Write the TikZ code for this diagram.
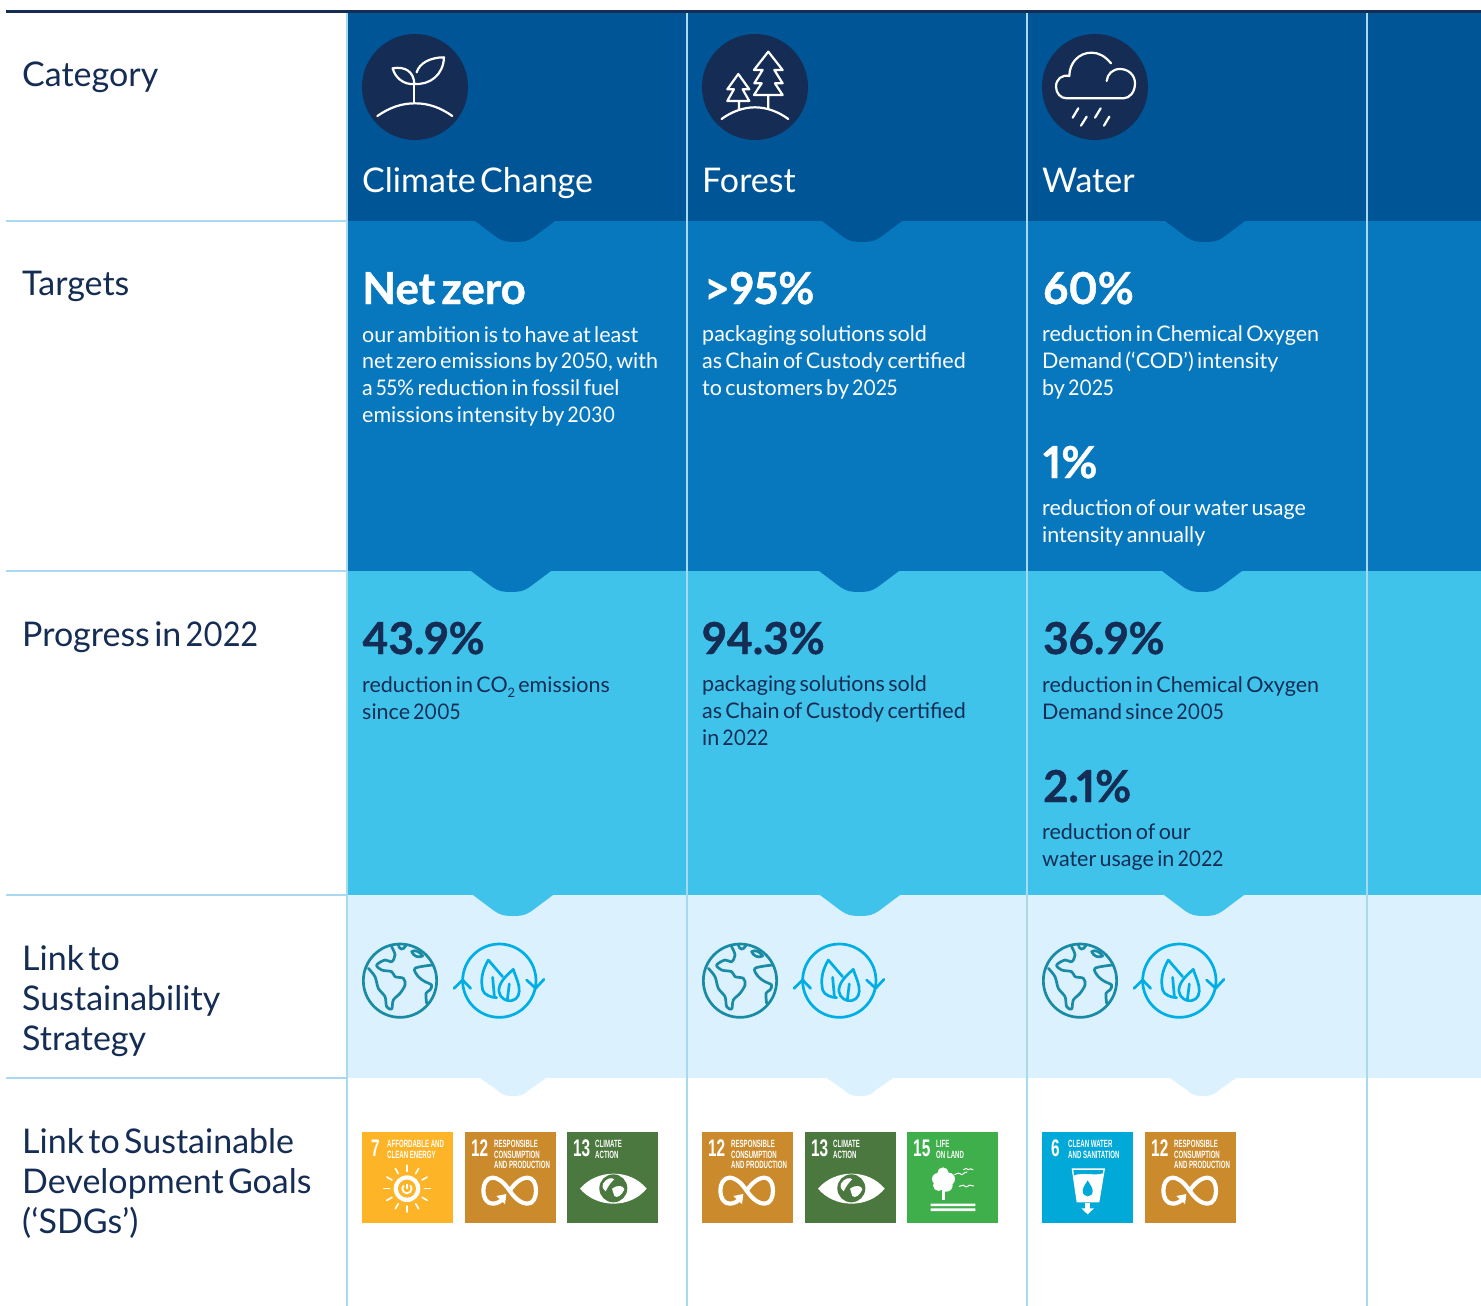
\documentclass[tikz,border=0pt]{standalone}
\usepackage{fontspec}
\setmainfont{Lato}[WordSpace=0.6,Numbers=Proportional,BoldFeatures={FakeBold=1}]
\newfontfamily\lblfont[WordSpace=0.5,Numbers=Proportional]{Lato}
\newfontfamily\digitfont[FakeStretch=0.9,Numbers=Proportional]{Lato}
\newfontfamily\sdgfont[FakeStretch=0.58]{Liberation Sans Bold}
\newfontfamily\sdgnum[FakeStretch=0.64]{Liberation Sans Bold}
\newcommand\dg[1]{{\digitfont #1}}
\definecolor{navy}{HTML}{152D55}
\definecolor{bandA}{HTML}{005596}
\definecolor{bandB}{HTML}{0878BE}
\definecolor{bandC}{HTML}{3FC3EA}
\definecolor{bandD}{HTML}{DBF1FD}
\definecolor{rulec}{HTML}{A9D9F0}
\definecolor{globec}{HTML}{1A8BA5}
\definecolor{leafc}{HTML}{00AEE6}
\definecolor{sdgY}{HTML}{FDB427}
\definecolor{sdgO}{HTML}{CB8A2B}
\definecolor{sdgG}{HTML}{4B783E}
\definecolor{sdgL}{HTML}{3FAF4B}
\definecolor{sdgB}{HTML}{00A9D8}
\tikzset{
  lbl/.style={anchor=base west,inner sep=0pt,align=left,text=navy,font=\fontsize{34}{40}\lblfont},
  head/.style={anchor=base west,inner sep=0pt,text=white,font=\fontsize{34}{40}\lblfont},
  bigw/.style={anchor=base west,inner sep=0pt,text=white,font=\fontsize{44}{50}\selectfont\bfseries},
  bigd/.style={anchor=base west,inner sep=0pt,text=navy,font=\fontsize{44}{50}\selectfont\bfseries},
  bodyw/.style={anchor=base west,inner sep=0pt,align=left,text=white,font=\fontsize{21.5}{26.6}\selectfont},
  bodyd/.style={anchor=base west,inner sep=0pt,align=left,text=navy,font=\fontsize{21.5}{26.6}\selectfont},
  iconw/.style={draw=white,line width=2.2pt,line cap=round,line join=round},
  icong/.style={draw=globec,line width=2.7pt,line cap=round,line join=round},
  iconl/.style={draw=leafc,line width=2.7pt,line cap=round,line join=round},
  tile/.style={anchor=north west,inner sep=0pt,minimum size=91pt},
  tnum/.style={anchor=base west,inner sep=0pt,text=white,font=\fontsize{24}{24}\sdgnum},
  tlab/.style={anchor=north west,inner sep=0pt,align=left,text=white,font=\fontsize{10.5}{10.7}\sdgfont},
  tsym/.style={draw=white,line cap=round,line join=round},
}
% notch: upper band's colour pushed into the lower one
\newcommand\notch[3]{\fill[#3] ({#1-40},#2) -- ({#1-20},{#2+15}) .. controls ({#1-12},{#2+21}) and ({#1-6},{#2+21}) .. (#1,{#2+21}) .. controls ({#1+6},{#2+21}) and ({#1+12},{#2+21}) .. ({#1+20},{#2+15}) -- ({#1+40},#2) -- cycle;}
\newcommand\smallnotch[3]{\fill[#3] ({#1-33},#2) -- ({#1-16},{#2+12}) .. controls ({#1-10},{#2+18}) and ({#1-5},{#2+18}) .. (#1,{#2+18}) .. controls ({#1+5},{#2+18}) and ({#1+10},{#2+18}) .. ({#1+16},{#2+12}) -- ({#1+33},#2) -- cycle;}
\newcommand\linkicons[1]{%
\begin{scope}[shift={({350+#1},930)},x=0.3333pt,y=-0.3333pt]
  \draw[icong] (150,152) circle (110);
  \draw[icong] plot[smooth,tension=0.55] coordinates {(55,115) (75,140) (85,175) (105,200) (110,230) (125,237) (130,210) (150,190) (165,165) (160,145) (135,140) (125,125) (95,120) (80,105) (105,90) (125,95) (135,75) (125,50)};
  \draw[icong] (145,45) .. controls (148,60) and (160,62) .. (168,46);
  \draw[icong] (185,65) .. controls (190,78) and (205,85) .. (218,78) .. controls (210,65) and (195,58) .. (185,65) -- cycle;
  \draw[icong] plot[smooth,tension=0.55] coordinates {(248,105) (195,115) (205,140) (225,155) (245,165) (240,180) (228,190) (230,220)};
  \draw[iconl] (448,152) circle (110);
  \draw[iconl] (312,175) -- (338,150) -- (362,175);
  \draw[iconl] (530,150) -- (557,175) -- (582,148);
  \draw[iconl] (415,90) .. controls (395,125) and (392,150) .. (398,180) .. controls (402,195) and (425,203) .. (440,203);
  \draw[iconl] (415,90) -- (458,140);
  \draw[iconl] (490,118) .. controls (465,140) and (445,160) .. (447,185) .. controls (450,205) and (470,215) .. (485,212) .. controls (505,208) and (510,190) .. (507,170) .. controls (503,150) and (495,135) .. (490,118) -- cycle;
  \draw[iconl] (428,142) -- (433,198);
  \draw[iconl] (478,162) -- (472,210);
\end{scope}}
% symbols in 3x local tile coordinates
\newcommand\symsun[1]{\fill[white] (135,170) circle (40);
  \foreach \a in {0,30,...,330} {\draw[tsym,line width=1.6pt] ({135+52*cos(\a)},{170+52*sin(\a)}) -- ({135+70*cos(\a)},{170+70*sin(\a)});}
  \fill[#1] (135,170) circle (27);
  \draw[white,line width=1.8pt] (125,160) arc[start angle=225,end angle=-45,radius=14];
  \draw[white,line width=1.8pt] (135,155) -- (135,172);}
\newcommand\syminf{\draw[tsym,line width=4.2pt,line cap=butt] (118,198) .. controls (105,210) and (95,215) .. (83,215) .. controls (65,215) and (55,197) .. (55,176) .. controls (55,155) and (65,137) .. (83,137) .. controls (95,137) and (113,145) .. (134,176) .. controls (155,207) and (175,215) .. (187,215) .. controls (205,215) and (213,197) .. (213,176) .. controls (213,155) and (205,137) .. (187,137) .. controls (175,137) and (155,145) .. (134,176);
  \fill[white] (94,192) -- (124,186) -- (120,216) -- cycle;}
\newcommand\symeye[1]{\fill[white] (39,170) .. controls (90,110) and (190,110) .. (239,170) .. controls (190,230) and (90,230) .. (39,170) -- cycle;
  \fill[#1] (139,169) circle (42);
  \fill[white] (108,155) .. controls (118,138) and (135,135) .. (142,142) .. controls (132,150) and (122,165) .. (116,178) .. controls (108,175) and (105,165) .. (108,155) -- cycle;
  \fill[white] (135,170) .. controls (150,158) and (170,160) .. (172,172) .. controls (165,190) and (150,200) .. (142,192) -- cycle;}
\newcommand\symtree{\fill[white] (108,123) circle (17) (93,141) circle (18) (125,141) circle (19) (95,160) circle (17) (118,160) circle (19);
  \fill[white] (106,170) rectangle (115,205);
  \fill[white] (71,215) rectangle (205,222) (71,229) rectangle (205,237);
  \draw[tsym,line width=1pt] (143,128) .. controls (152,122) and (160,122) .. (165,128) .. controls (170,122) and (175,122) .. (180,120);
  \draw[tsym,line width=1pt] (170,113) .. controls (175,108) and (180,108) .. (184,113) .. controls (188,109) and (193,110) .. (198,113);
  \draw[tsym,line width=1pt] (157,163) .. controls (165,158) and (172,158) .. (178,165) .. controls (184,158) and (192,158) .. (200,162);}
\newcommand\symglass[1]{\fill[white] (89,109) -- (189,109) -- (172,211) -- (104,211) -- cycle;
  \fill[#1] (94,114) -- (184,114) -- (182,124) .. controls (160,132) and (120,120) .. (96,130) -- cycle;
  \fill[#1] (137,145) .. controls (128,160) and (122,168) .. (122,177) .. controls (122,187) and (130,193) .. (137,193) .. controls (146,193) and (152,187) .. (152,177) .. controls (152,168) and (146,160) .. (137,145) -- cycle;
  \fill[white] (130,214) rectangle (144,232);
  \fill[white] (118,229) -- (156,229) -- (137,247) -- cycle;}
% name, x, colour, number, number dx, label dx, label, symbol
\newcommand\sdgtile[8]{%
  \node[tile,fill=#3] (#1) at (#2,1132) {};
  \node[tnum] (#1n) at ({#2+#5},1156) {#4};
  \node[tlab] (#1l) at ({#2+#6},1140) {#7};
  \begin{scope}[shift={(#2,1132)},x=0.3333pt,y=-0.3333pt] #8 \end{scope}}
\begin{document}
\begin{tikzpicture}[x=1pt,y=-1pt]
\useasboundingbox (0,0) rectangle (1481,1306);
\fill[white] (0,0) rectangle (1481,1306);
% bands
\fill[bandA] (347,12) rectangle (1481,221);
\fill[bandB] (347,221) rectangle (1481,571);
\fill[bandC] (347,571) rectangle (1481,895);
\fill[bandD] (347,895) rectangle (1481,1078);
% notches
\notch{515}{221}{bandA}\notch{862}{221}{bandA}\notch{1205}{221}{bandA}
\notch{511}{571}{bandB}\notch{859}{571}{bandB}\notch{1202}{571}{bandB}
\notch{513}{895}{bandC}\notch{860}{895}{bandC}\notch{1204}{895}{bandC}
\smallnotch{513}{1078}{bandD}\smallnotch{860}{1078}{bandD}\smallnotch{1203}{1078}{bandD}
% rules
\foreach \yy in {221,571,895,1078} {\draw[rulec,line width=1.3pt] (6,\yy) -- (347,\yy);}
\foreach \xx in {347,687,1027,1367} {\draw[rulec,line width=1.3pt] (\xx,12) -- (\xx,1306);}
\draw[navy,line width=2.6pt] (6,11.5) -- (1481,11.5);
% left labels
\node[lbl] (catL) at (22,86) {Category};
\node[lbl] (tarL) at (22,295) {Targets};
\node[lbl] (proL) at (22,646) {Progress in \dg{2022}};
\node[lbl] (strL) at (22,1050) {Link to\\Sustainability\\Strategy};
\node[lbl] (sdgL) at (22,1233) {Link to Sustainable\\Development Goals\\(‘SDGs’)};
% header
\foreach \cx in {415,755,1095} {\fill[navy] (\cx,87) circle (53);}
\node[head] (h1) at (362,192) {Climate Change};
\node[head] (h2) at (702,192) {Forest};
\node[head] (h3) at (1042,192) {Water};
\begin{scope}[shift={(340,0)},x=0.3333pt,y=-0.3333pt]
  % seedling
  \draw[iconw] (112,348) .. controls (150,322) and (185,310) .. (225,310) .. controls (265,310) and (300,322) .. (337,348);
  \draw[iconw] (223,310) -- (223,255);
  \draw[iconw] (223,252) .. controls (222,215) and (195,198) .. (158,205) .. controls (165,232) and (190,255) .. (223,252) .. controls (270,255) and (310,225) .. (312,172) .. controls (270,172) and (238,190) .. (230,217);
  % trees
  \draw[iconw] (1285,285) -- (1242,285) -- (1265,250) -- (1243,250) -- (1268,210) -- (1242,210) -- (1285,155) -- (1328,210) -- (1303,210) -- (1328,250) -- (1305,250) -- (1328,285) -- (1285,285) -- (1285,325);
  \draw[iconw] (1197,303) -- (1162,303) -- (1182,268) -- (1162,268) -- (1195,222) -- (1228,268) -- (1208,268) -- (1228,303) -- (1197,303) -- (1197,328);
  \draw[iconw] (1145,357) .. controls (1175,335) and (1210,322) .. (1245,322) .. controls (1280,322) and (1315,335) .. (1345,357);
\end{scope}
\begin{scope}[shift={(1030,20)},x=0.3333pt,y=-0.3333pt]
  \draw[iconw] (243,130) .. controls (225,108) and (205,98) .. (185,98) .. controls (145,98) and (118,130) .. (118,168) .. controls (95,163) and (78,178) .. (78,200) .. controls (78,220) and (92,235) .. (110,235) -- (280,235) .. controls (300,235) and (315,215) .. (315,190) .. controls (315,165) and (295,147) .. (270,147) .. controls (248,147) and (232,162) .. (230,183);
  \draw[iconw] (145,265) -- (128,293) (170,290) -- (153,317) (212,265) -- (195,293) (238,290) -- (222,317);
\end{scope}
% targets
\node[bigw] (t1) at (362,304) {Net zero};
\node[bodyw] (t1b) at (362,422) {our ambition is to have at least\\net zero emissions by \dg{2050}, with\\a \dg{55}\% reduction in fossil fuel\\emissions intensity by \dg{2030}};
\node[bigw] (t2) at (704,304) {>95\%};
\node[bodyw] (t2b) at (702,395) {packaging solutions sold\\as Chain of Custody certified\\to customers by \dg{2025}};
\node[bigw] (t3) at (1043,304) {60\%};
\node[bodyw] (t3b) at (1042,395) {reduction in Chemical Oxygen\\Demand (‘COD’) intensity\\by \dg{2025}};
\node[bigw] (t4) at (1043,478) {1\%};
\node[bodyw] (t4b) at (1042,542) {reduction of our water usage\\intensity annually};
% progress
\node[bigd] (p1) at (362,654) {43.9\%};
\node[bodyd] (p1b) at (362,719) {reduction in CO\raisebox{-0.25em}{\fontsize{13}{13}\selectfont 2} emissions\\since \dg{2005}};
\node[bigd] (p2) at (702,654) {94.3\%};
\node[bodyd] (p2b) at (702,745) {packaging solutions sold\\as Chain of Custody certified\\in \dg{2022}};
\node[bigd] (p3) at (1043,654) {36.9\%};
\node[bodyd] (p3b) at (1042,719) {reduction in Chemical Oxygen\\Demand since \dg{2005}};
\node[bigd] (p4) at (1043,802) {2.1\%};
\node[bodyd] (p4b) at (1042,866) {reduction of our\\water usage in \dg{2022}};
% strategy icons
\linkicons{0}\linkicons{340}\linkicons{680}
% SDG tiles
\sdgtile{a7}{362}{sdgY}{7}{9}{25}{AFFORDABLE AND\\CLEAN ENERGY}{\symsun{sdgY}}
\sdgtile{a12}{465}{sdgO}{12}{6}{29}{RESPONSIBLE\\CONSUMPTION\\AND PRODUCTION}{\syminf}
\sdgtile{a13}{567}{sdgG}{13}{6}{28}{CLIMATE\\ACTION}{\symeye{sdgG}}
\sdgtile{b12}{702}{sdgO}{12}{6}{29}{RESPONSIBLE\\CONSUMPTION\\AND PRODUCTION}{\syminf}
\sdgtile{b13}{805}{sdgG}{13}{6}{28}{CLIMATE\\ACTION}{\symeye{sdgG}}
\sdgtile{b15}{907}{sdgL}{15}{6}{29}{LIFE\\ON LAND}{\symtree}
\sdgtile{c6}{1042}{sdgB}{6}{9}{26}{CLEAN WATER\\AND SANITATION}{\symglass{sdgB}}
\sdgtile{c12}{1145}{sdgO}{12}{6}{29}{RESPONSIBLE\\CONSUMPTION\\AND PRODUCTION}{\syminf}
\end{tikzpicture}
\end{document}
